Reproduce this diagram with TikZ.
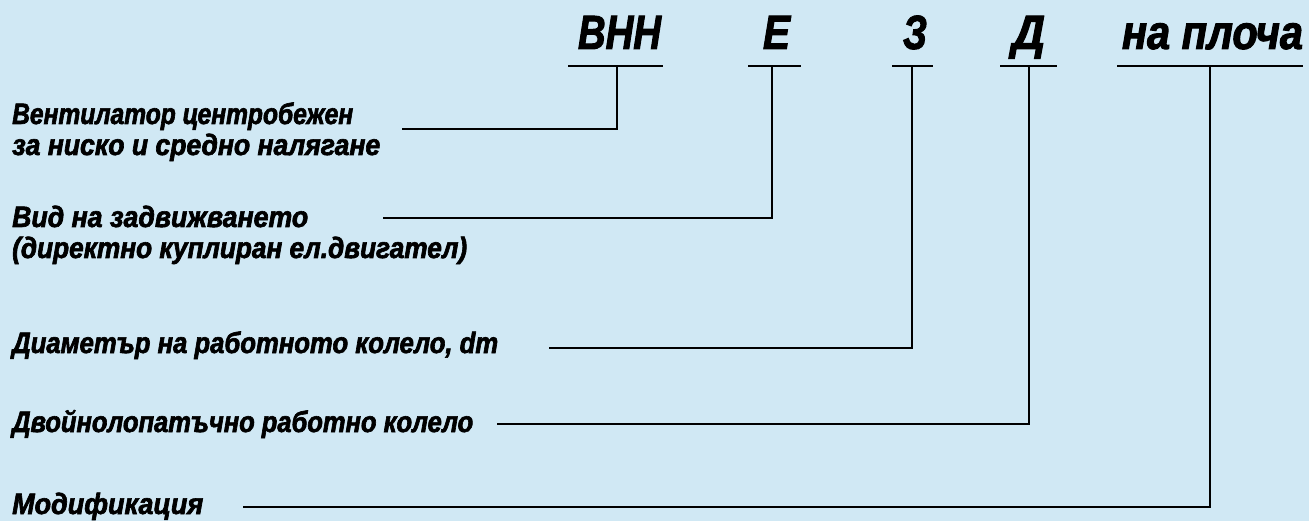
\documentclass[tikz,border=0pt]{standalone}
\usepackage{fontspec}
\usepackage{graphicx}
\setmainfont{Liberation Sans}[FakeStretch=0.8,BoldItalicFeatures={FakeBold=2}]
\definecolor{paper}{HTML}{D0E8F4}
\definecolor{ink}{HTML}{000000}
% set a line of text to a given width, keeping its height
\newcommand\fitw[2]{\resizebox{#1}{\height}{#2}}
\begin{document}
\begin{tikzpicture}[x=1pt,y=-1pt,
  code/.style={anchor=base,inner sep=0pt,text=ink,font=\fontsize{48}{50}\selectfont\bfseries\itshape},
  caption/.style={anchor=base west,inner sep=0pt,text=ink,align=left,
    font=\fontsize{29.5}{31}\selectfont\bfseries\itshape},
  rule/.style={draw=ink,line width=2.7pt},
  leader/.style={draw=ink,line width=2.7pt}]
\fill[paper] (0,0) rectangle (1309,521);
\useasboundingbox (0,0) rectangle (1309,521);

% designation code
\node[code] (vnn) at (619.5,49) {\fitw{83pt}{ВНН}};
\node[code] (e)   at (776.5,49) {\fitw{27pt}{Е}};
\node[code] (z)   at (915,49)   {\fitw{24pt}{З}};
\node[code] (d)   at (1028.5,49){\fitw{33pt}{Д}};
\node[code] (pl)  at (1212.5,49){\fitw{181pt}{на плоча}};

% junction points under each part of the code
\coordinate (vnnT) at (617,66);
\coordinate (eT)   at (772,66);
\coordinate (zT)   at (912,66);
\coordinate (dT)   at (1029,66);
\coordinate (plT)  at (1210,66);

\draw[rule] (568,66) -- (663,66);
\draw[rule] (748,66) -- (801,66);
\draw[rule] (892,66) -- (933,66);
\draw[rule] (1000,66) -- (1057,66);
\draw[rule] (1117,66) -- (1303,66);

% explanations (two-line captions are placed by their last baseline)
\node[caption] (c1) at (12,155) {\fitw{341pt}{Вентилатор центробежен}\\\fitw{368pt}{за ниско и средно налягане}};
\node[caption] (c2) at (12,258) {\fitw{296pt}{Вид на задвижването}\\\fitw{455pt}{(директно куплиран ел.двигател)}};
\node[caption] (c3) at (12,353) {\fitw{486pt}{Диаметър на работното колело, dm}};
\node[caption] (c4) at (12,432) {\fitw{461pt}{Двойнолопатъчно работно колело}};
\node[caption] (c5) at (12,514) {\fitw{191pt}{Модификация}};

% start of each leader line
\coordinate (l1) at (402,129);
\coordinate (l2) at (383,218);
\coordinate (l3) at (549,348);
\coordinate (l4) at (497,424);
\coordinate (l5) at (243,507);

\draw[leader] (l1) -| (vnnT);
\draw[leader] (l2) -| (eT);
\draw[leader] (l3) -| (zT);
\draw[leader] (l4) -| (dT);
\draw[leader] (l5) -| (plT);
\end{tikzpicture}
\end{document}
